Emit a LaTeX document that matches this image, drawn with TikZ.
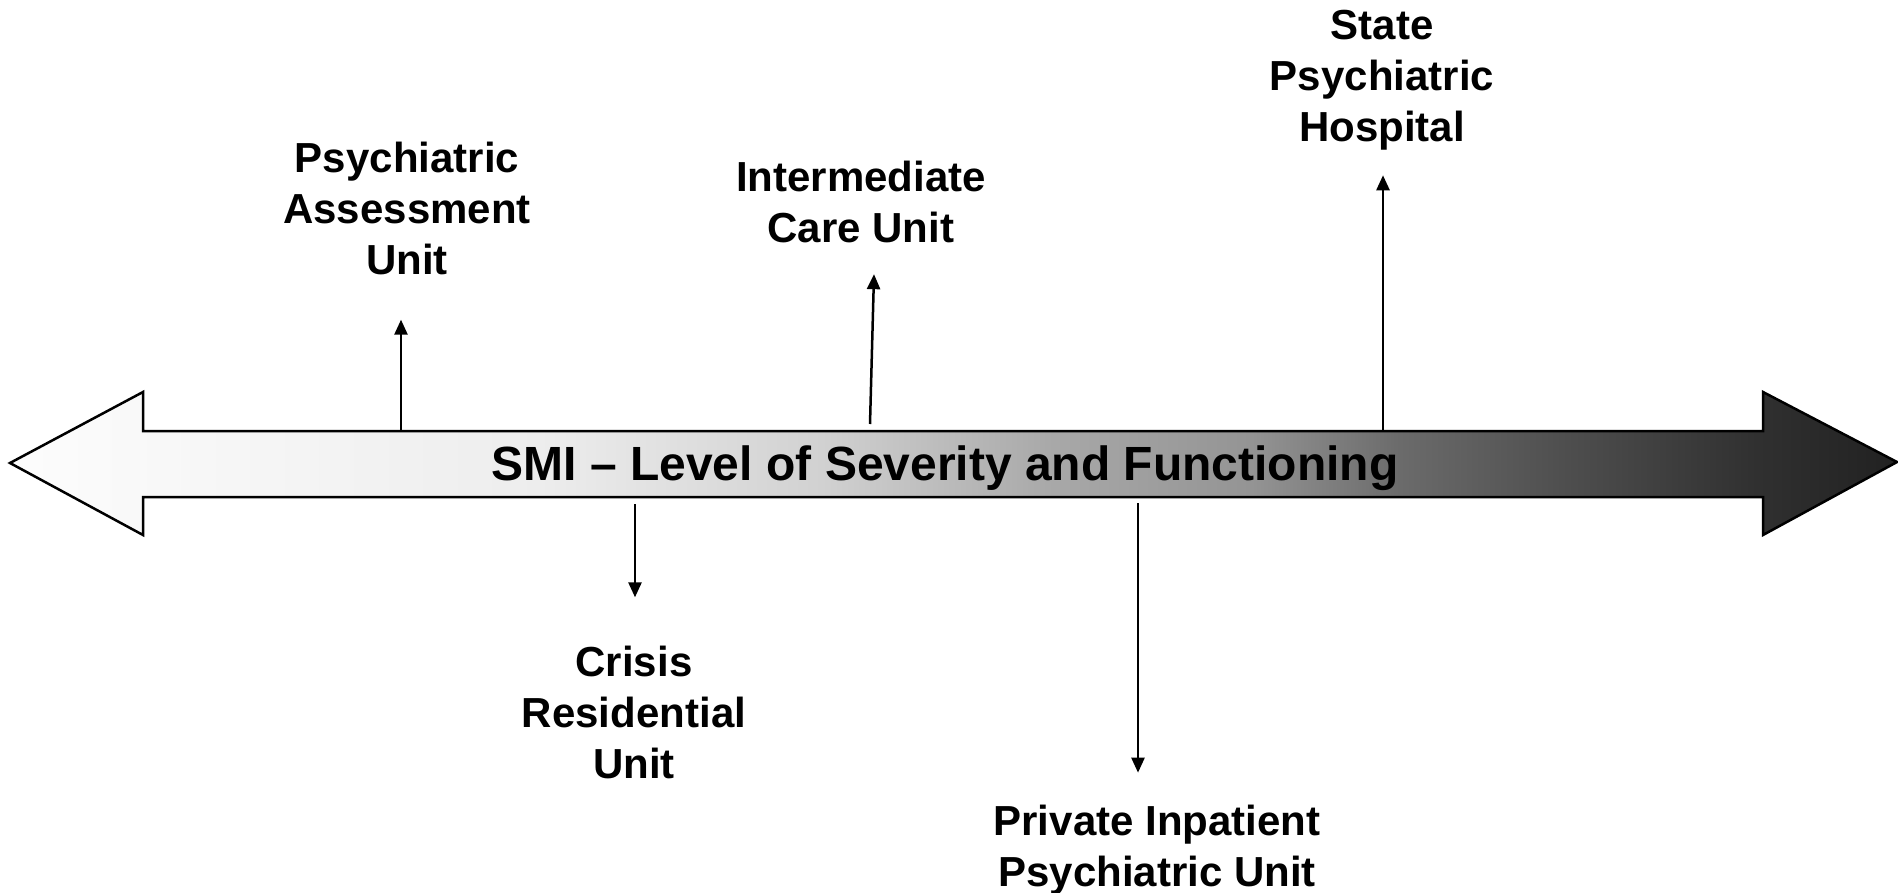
\documentclass[tikz,border=0pt]{standalone}
\usepackage{fontspec}
\setmainfont{Liberation Sans}
\usetikzlibrary{arrows.meta}

\pgfdeclarehorizontalshading{severity}{100bp}{color(0bp)=(black!1); color(25bp)=(black!1);
  color(39bp)=(black!7); color(46.5bp)=(black!18); color(52.6bp)=(black!34);
  color(57.9bp)=(black!42); color(61.8bp)=(black!58); color(66.1bp)=(black!69);
  color(71.2bp)=(black!81); color(75bp)=(black!87); color(100bp)=(black!87)}

\tikzset{
  careunit/.style={font=\fontsize{42}{51}\selectfont\bfseries, align=center, inner sep=0pt},
  axistext/.style={font=\fontsize{48}{58}\selectfont\bfseries, inner sep=0pt}
}

\begin{document}
\begin{tikzpicture}[x=1pt, y=-1pt, >={Triangle[length=15pt,width=13pt]}, line width=2.5pt]
      \useasboundingbox (0,0) rectangle (1898,893);
      % double arrow with the severity scale
      \draw [shading=severity] (10,463) -- (143,392) -- (143,431) -- (1763,431) -- (1763,392)
        -- (1897,462) -- (1763,535) -- (1763,497) -- (143,497) -- (143,535) -- cycle;
      \node (smi) [axistext, anchor=base] at (945,480) {SMI -- Level of Severity and Functioning};

      \node (assess) [careunit] at (407,208) {Psychiatric\\Assessment\\Unit};
      \node (inter) [careunit] at (861,202) {Intermediate\\Care Unit};
      \node (state) [careunit] at (1382,80) {State\\Psychiatric\\Hospital};
      \node (crisis) [careunit] at (634,712) {Crisis\\Residential\\Unit};
      \node (private) [careunit] at (1157,850) {Private Inpatient\\Psychiatric Unit};

      \coordinate (assess0) at (401,430);
      \coordinate (inter0) at (870,424);
      \coordinate (state0) at (1383,430);
      \coordinate (crisis0) at (635,504);
      \coordinate (private0) at (1138,503);

      \draw [->] (assess0) -- ([yshift=-44pt]assess0 |- assess.south);
      \draw [->] (inter0) -- ([xshift=13pt, yshift=-30pt]inter.south);
      \draw [->] (state0) -- ([yshift=-24pt]state0 |- state.south);
      \draw [->] (crisis0) -- ([yshift=47pt]crisis0 |- crisis.north);
      \draw [->] (private0) -- ([yshift=31pt]private0 |- private.north);
  \end{tikzpicture}
\end{document}
